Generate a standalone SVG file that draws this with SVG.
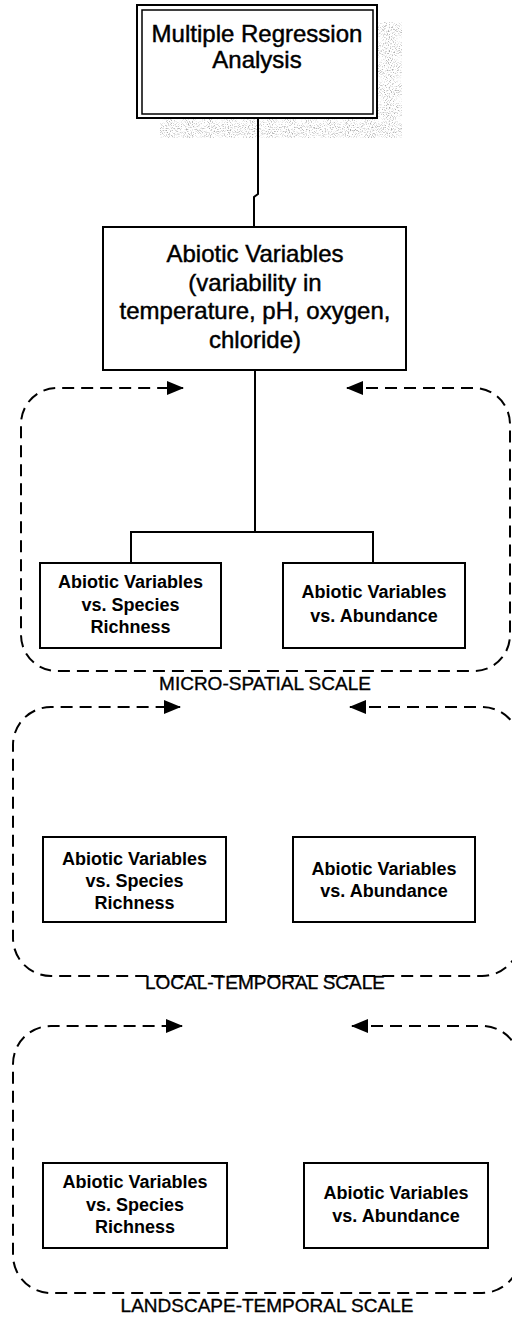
<svg xmlns="http://www.w3.org/2000/svg" width="512" height="1318" viewBox="0 0 512 1318">
  <style>
    .box { fill: #fff; stroke: #000; stroke-width: 2; }
    .link { fill: none; stroke: #000; stroke-width: 2; }
    .scope { fill: none; stroke: #000; stroke-width: 2; stroke-dasharray: 12 7; marker-start: url(#head); marker-end: url(#head); }
    .big { font-family: "Liberation Sans", Arial, sans-serif; font-size: 24px; fill: #000; stroke: #000; stroke-width: 0.45; text-anchor: middle; }
    .small { font-family: "Liberation Sans", Arial, sans-serif; font-size: 18px; font-weight: bold; fill: #000; text-anchor: middle; }
    .scale { font-family: "Liberation Sans", Arial, sans-serif; font-size: 19px; fill: #000; stroke: #000; stroke-width: 0.35; text-anchor: middle; }
  </style>
  <defs>
    <marker id="head" markerUnits="userSpaceOnUse" markerWidth="18" markerHeight="14" refX="16" refY="7" orient="auto-start-reverse">
      <path d="M0,0 L17,7 L0,14 Z" fill="#000" stroke="none"/>
    </marker>
    <filter id="grain" x="0" y="0" width="100%" height="100%">
      <feTurbulence type="fractalNoise" baseFrequency="0.95" numOctaves="1" seed="7" result="noise"/>
      <feColorMatrix in="noise" type="matrix" values="0 0 0 0 0.4  0 0 0 0 0.4  0 0 0 0 0.4  4 0 0 0 -2.05" result="dots"/>
      <feComposite in="dots" in2="SourceGraphic" operator="in"/>
    </filter>
  </defs>
  <rect width="512" height="1318" fill="#fff"/>

  <!-- speckled drop shadow of the title box -->
  <g id="title-shadow" filter="url(#grain)">
    <path d="M377,22 L402,22 L402,138 L160,138 L160,119 L377,119 Z" fill="#000"/>
  </g>

  <!-- dashed scale frames with inward arrows -->
  <g id="scales">
    <path class="scope" d="M347,388 L474,388 A36,36 0 0 1 510,424 L510,635 A36,36 0 0 1 474,671 L57,671 A36,36 0 0 1 21,635 L21,424 A36,36 0 0 1 57,388 L183,388"/>
    <path class="scope" d="M350,707 L482,707 A38,38 0 0 1 520,745 L520,938 A38,38 0 0 1 482,976 L51,976 A38,38 0 0 1 13,938 L13,745 A38,38 0 0 1 51,707 L180,707"/>
    <path class="scope" d="M352,1026 L482,1026 A38,38 0 0 1 520,1064 L520,1255 A38,38 0 0 1 482,1293 L51,1293 A38,38 0 0 1 13,1255 L13,1064 A38,38 0 0 1 51,1026 L182,1026"/>
    <text class="scale" x="265" y="690">MICRO-SPATIAL SCALE</text>
    <text class="scale" x="265" y="989">LOCAL-TEMPORAL SCALE</text>
    <text class="scale" x="267" y="1312">LANDSCAPE-TEMPORAL SCALE</text>
  </g>

  <!-- connectors -->
  <g id="connectors">
    <path class="link" d="M258,118 L258,194 L254,197 L254,227"/>
    <path class="link" d="M255,370 L255,532"/>
    <path class="link" d="M131,563 L131,532 L373,532 L373,563"/>
  </g>

  <g id="title">
    <rect class="box" x="137" y="5" width="240" height="113"/>
    <rect x="142" y="10" width="231" height="104" fill="none" stroke="#000" stroke-width="1.5"/>
    <text class="big" x="257" y="42">Multiple Regression</text>
    <text class="big" x="257" y="68">Analysis</text>
  </g>

  <g id="abiotic">
    <rect class="box" x="103" y="227" width="303" height="143"/>
    <text class="big" x="255" y="262">Abiotic Variables</text>
    <text class="big" x="255" y="290.5">(variability in</text>
    <text class="big" x="255" y="319">temperature, pH, oxygen,</text>
    <text class="big" x="255" y="347.5">chloride)</text>
  </g>

  <g id="micro-richness">
    <rect class="box" x="40" y="563" width="181" height="85"/>
    <text class="small" x="130.5" y="588">Abiotic Variables</text>
    <text class="small" x="130.5" y="610.5">vs. Species</text>
    <text class="small" x="130.5" y="633">Richness</text>
  </g>
  <g id="micro-abundance">
    <rect class="box" x="283" y="563" width="182" height="85"/>
    <text class="small" x="374" y="598">Abiotic Variables</text>
    <text class="small" x="374" y="622">vs. Abundance</text>
  </g>

  <g id="local-richness">
    <rect class="box" x="43" y="837" width="183" height="85"/>
    <text class="small" x="134.5" y="865">Abiotic Variables</text>
    <text class="small" x="134.5" y="887">vs. Species</text>
    <text class="small" x="134.5" y="909">Richness</text>
  </g>
  <g id="local-abundance">
    <rect class="box" x="293" y="837" width="182" height="85"/>
    <text class="small" x="384" y="875">Abiotic Variables</text>
    <text class="small" x="384" y="897">vs. Abundance</text>
  </g>

  <g id="landscape-richness">
    <rect class="box" x="43" y="1163" width="184" height="85"/>
    <text class="small" x="135" y="1188">Abiotic Variables</text>
    <text class="small" x="135" y="1211">vs. Species</text>
    <text class="small" x="135" y="1233">Richness</text>
  </g>
  <g id="landscape-abundance">
    <rect class="box" x="304" y="1163" width="184" height="85"/>
    <text class="small" x="396" y="1199">Abiotic Variables</text>
    <text class="small" x="396" y="1222">vs. Abundance</text>
  </g>
</svg>
